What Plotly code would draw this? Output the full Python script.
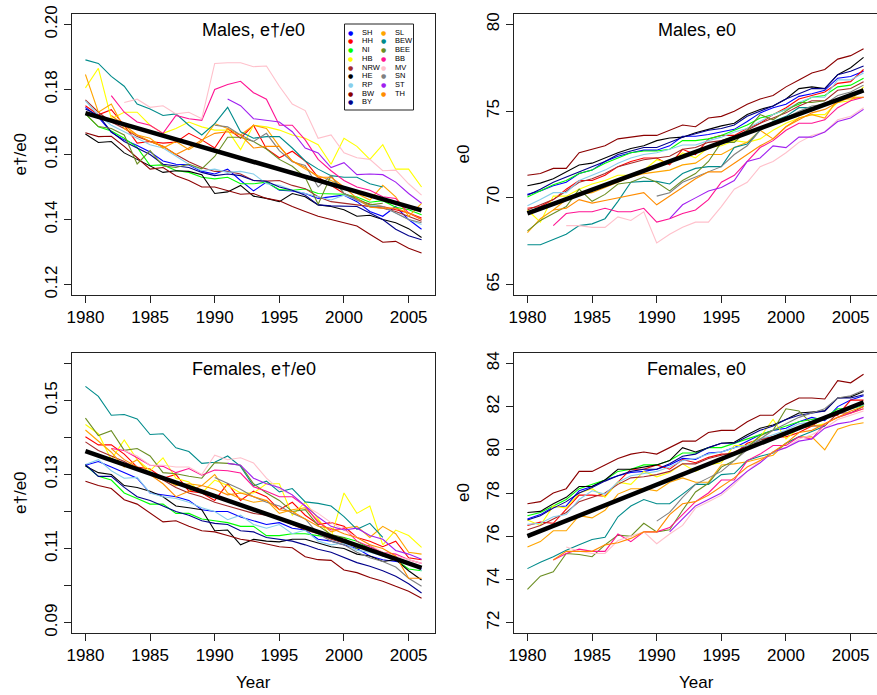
import plotly.graph_objects as go

years = list(range(1980, 2007))
trend_years = [1980, 2006]
N = None

states = ["SH", "HH", "NI", "HB", "NRW", "HE", "RP", "BW", "BY",
          "SL", "BEW", "BEE", "BB", "MV", "SN", "ST", "TH"]
colors = {"SH": "#0000FF", "HH": "#FF0000", "NI": "#00FF00", "HB": "#FFFF00",
          "NRW": "#A52A2A", "HE": "#000000", "RP": "#87CEEB", "BW": "#8B0000",
          "BY": "#00008B", "SL": "#FFA500", "BEW": "#008B8B", "BEE": "#6B8E23",
          "BB": "#FF1493", "MV": "#FFC0CB", "SN": "#808080", "ST": "#A020F0",
          "TH": "#FF8C00"}

# ---- Males, e-dagger / e0 ----
males_ratio = {
    "SH": [.1745, .1715, .1668, .1645, .1628, .1608, .1580, .1570, .1568, .1548, .1540, .1555, .1520, .1488, .1515, .1490, .1488, .1480, .1465, .1470, .1475, .1455, .1425, .1410, .1440, .1400, .1370],
    "HH": [.1750, .1722, .1738, .1690, .1635, .1640, .1635, .1638, .1665, .1645, .1620, .1680, .1650, .1690, .1618, .1590, .1610, .1580, .1530, .1505, .1480, .1460, .1448, .1440, .1430, .1420, .1405],
    "NI": [.1725, .1685, .1672, .1650, .1622, .1566, .1568, .1551, .1545, .1530, .1525, .1530, .1510, .1510, .1515, .1492, .1490, .1494, .1480, .1480, .1478, .1469, .1453, .1458, .1438, .1430, .1415],
    "HB": [.1805, .1865, .1710, .1730, .1730, .1690, .1665, .1680, .1700, .1685, .1675, .1675, .1615, .1690, .1685, .1675, .1660, .1650, .1630, .1570, .1650, .1625, .1585, .1630, .1555, .1555, .1500],
    "NRW": [.1768, .1730, .1700, .1680, .1655, .1640, .1625, .1600, .1578, .1560, .1548, .1548, .1540, .1520, .1518, .1520, .1505, .1495, .1470, .1455, .1450, .1445, .1440, .1435, .1425, .1410, .1395],
    "HE": [.1663, .1637, .1640, .1605, .1585, .1565, .1545, .1550, .1548, .1538, .1480, .1485, .1505, .1472, .1465, .1455, .1480, .1470, .1445, .1440, .1430, .1410, .1413, .1400, .1390, .1372, .1345],
    "RP": [.1765, .1720, .1690, .1670, .1650, .1630, .1620, .1595, .1570, .1550, .1555, .1545, .1548, .1540, .1510, .1505, .1490, .1480, .1470, .1460, .1475, .1460, .1445, .1440, .1420, .1400, .1385],
    "BW": [.1667, .1655, .1656, .1625, .1590, .1555, .1560, .1535, .1520, .1500, .1500, .1490, .1478, .1480, .1465, .1458, .1440, .1425, .1410, .1400, .1390, .1380, .1355, .1330, .1333, .1312, .1297],
    "BY": [.1740, .1720, .1670, .1640, .1620, .1600, .1570, .1565, .1560, .1545, .1535, .1540, .1535, .1520, .1518, .1500, .1490, .1475, .1445, .1442, .1440, .1440, .1420, .1400, .1370, .1350, .1338],
    "SL": [.1846, .1730, .1755, .1680, .1660, .1650, .1620, .1640, .1615, .1640, .1695, .1680, .1660, .1690, .1680, .1625, .1580, .1555, .1535, .1520, .1500, .1480, .1460, .1505, .1470, .1410, .1450],
    "BEW": [.1891, .1880, .1840, .1810, .1755, .1740, .1720, .1725, .1690, .1660, .1695, .1745, .1670, .1650, .1655, .1655, .1620, .1580, .1555, .1535, .1530, .1530, .1510, .1500, N, N, N],
    "BEE": [.1725, .1686, .1680, .1660, .1571, .1612, .1565, .1560, .1570, .1556, .1594, .1653, .1653, .1640, .1617, .1585, .1564, .1530, .1447, .1535, .1480, .1465, .1445, .1450, N, N, N],
    "BB": [N, N, .1781, .1730, .1700, .1690, .1665, .1720, .1710, .1705, .1800, .1815, .1825, .1790, .1770, .1690, .1690, .1645, .1585, .1550, .1520, .1500, .1490, .1470, .1465, .1420, .1400],
    "MV": [N, N, N, .1760, .1770, .1745, .1750, .1725, .1730, .1710, .1880, .1882, .1882, .1870, .1872, .1810, .1755, .1735, .1650, .1660, .1605, .1590, .1585, .1550, .1552, .1510, .1475],
    "SN": [N, N, N, N, N, N, N, N, N, N, .1690, .1685, .1660, .1640, .1665, .1612, .1578, .1566, .1500, .1535, .1480, .1460, .1440, .1440, .1420, .1400, .1390],
    "ST": [N, N, N, N, N, N, N, N, N, N, N, .1771, .1750, .1710, .1705, .1700, .1670, .1620, .1605, .1560, .1575, .1538, .1540, .1538, .1515, .1480, .1450],
    "TH": [N, N, .1720, .1690, .1660, .1640, .1625, .1600, .1620, .1645, .1665, .1670, .1660, .1620, .1625, .1625, .1580, .1560, .1530, .1530, .1500, .1465, .1438, .1435, .1435, .1420, .1400],
}
males_ratio_trend = [0.1727, 0.1428]

# ---- Males, e0 ----
males_e0 = {
    "SH": [70.2, 70.4, 70.7, 70.9, 71.4, 71.6, 72.1, 72.4, 72.6, 72.75, 72.75, 73.0, 73.55, 73.55, 73.65, 73.8, 73.95, 74.4, 74.9, 75.2, 75.4, 75.85, 76.0, 76.2, 76.9, 77.0, 77.3],
    "HH": [69.4, 69.5, 69.9, 70.5, 71.0, 71.0, 71.3, 71.8, 72.1, 72.3, 72.3, 71.9, 72.8, 72.5, 73.4, 73.6, 73.6, 74.0, 74.3, 74.8, 75.2, 75.7, 75.9, 76.1, 76.6, 76.7, 77.4],
    "NI": [70.05, 70.4, 70.75, 71.0, 71.4, 71.6, 72.0, 72.3, 72.6, 72.7, 72.7, 72.8, 73.3, 73.3, 73.4, 73.6, 73.9, 74.2, 74.6, 74.8, 75.1, 75.4, 75.8, 75.9, 76.4, 76.5, 76.9],
    "HB": [69.3, 68.6, 70.1, 70.1, 70.5, 70.8, 71.0, 71.3, 71.3, 71.6, 72.2, 72.0, 72.6, 72.3, 72.9, 73.0, 73.3, 73.2, 73.4, 73.9, 74.3, 74.6, 74.8, 74.8, 75.5, 75.6, 76.4],
    "NRW": [69.3, 69.6, 69.9, 70.4, 70.9, 71.1, 71.4, 71.8, 72.0, 72.2, 72.3, 72.4, 72.8, 72.9, 73.2, 73.3, 73.5, 73.9, 74.3, 74.6, 74.9, 75.3, 75.6, 75.6, 76.2, 76.3, 76.7],
    "HE": [70.7, 70.85, 71.1, 71.5, 71.9, 72.0, 72.3, 72.6, 72.85, 73.0, 73.3, 73.45, 73.5, 73.75, 73.95, 74.15, 74.3, 74.8, 75.1, 75.3, 75.7, 76.3, 76.4, 76.3, 77.1, 77.5, 78.1],
    "RP": [69.55, 69.9, 70.3, 70.3, 71.0, 71.3, 71.6, 72.0, 72.3, 72.5, 72.6, 72.8, 73.05, 73.05, 73.3, 73.5, 73.8, 74.0, 74.4, 74.8, 75.1, 75.5, 75.8, 75.8, 76.8, 76.8, 77.2],
    "BW": [71.3, 71.4, 71.7, 71.7, 72.6, 72.8, 73.0, 73.4, 73.5, 73.6, 73.6, 73.9, 74.2, 74.1, 74.6, 74.7, 75.0, 75.4, 75.7, 75.9, 76.4, 76.8, 77.2, 77.4, 78.0, 78.2, 78.6],
    "BY": [70.15, 70.5, 70.9, 71.2, 71.5, 71.8, 72.1, 72.5, 72.7, 72.9, 72.9, 73.2, 73.5, 73.7, 73.9, 74.0, 74.2, 74.7, 75.0, 75.3, 75.7, 76.0, 76.3, 76.3, 77.1, 77.3, 77.6],
    "SL": [68.0, 68.8, 69.3, 69.9, 70.2, 70.3, 70.6, 70.9, 71.2, 71.4, 71.5, 71.6, 71.9, 72.0, 72.5, 72.5, 72.9, 73.2, 73.9, 73.4, 74.1, 74.6, 74.8, 74.6, 75.7, 75.7, 75.8],
    "BEW": [67.3, 67.3, 67.6, 67.9, 68.4, 68.5, 68.8, 69.8, 70.9, 70.95, 70.95, 70.8, 71.4, 71.7, 71.8, 71.8, 72.9, 73.1, 73.9, 74.4, 74.7, 75.2, 75.2, 75.4, N, N, N],
    "BEE": [68.1, 68.7, 69.1, 69.5, 70.5, 69.8, 70.2, 70.8, 70.9, 71.2, 70.9, 70.4, 71.0, 71.4, 72.1, 73.2, 73.2, 73.9, 74.8, 74.5, 75.0, 75.5, 75.5, 75.6, N, N, N],
    "BB": [N, N, 68.4, 69.1, 69.2, 69.2, 69.4, 69.2, 69.2, 69.4, 68.6, 68.8, 69.1, 69.3, 69.9, 70.9, 71.3, 72.1, 72.9, 73.3, 73.9, 74.3, 74.3, 74.5, 75.2, 75.6, 75.8],
    "MV": [N, N, N, 68.4, 68.4, 68.3, 68.3, 68.9, 68.7, 69.2, 67.4, 67.9, 68.3, 68.6, 68.6, 69.5, 70.5, 70.9, 71.8, 72.1, 72.6, 73.2, 73.6, 73.8, 74.5, 74.7, 75.2],
    "SN": [N, N, N, N, N, N, N, N, N, N, 70.1, 70.3, 70.9, 71.2, 71.5, 71.8, 72.5, 73.0, 73.9, 74.3, 74.6, 75.0, 75.3, 75.4, 75.9, 76.1, 76.5],
    "ST": [N, N, N, N, N, N, N, N, N, N, N, 68.8, 69.6, 70.0, 70.4, 70.6, 71.0, 72.1, 72.3, 73.0, 72.9, 73.5, 73.5, 73.8, 74.4, 74.6, 75.1],
    "TH": [N, N, 69.3, 69.4, 69.9, 69.7, 69.85, 70.0, 70.15, 70.3, 69.6, 70.1, 70.6, 71.1, 71.5, 71.5, 72.0, 72.5, 73.0, 73.4, 74.1, 74.5, 74.9, 75.1, 75.5, 75.8, 75.8],
}
males_e0_trend = [69.1, 76.2]

# ---- Females, e-dagger / e0 ----
females_ratio = {
    "SH": [.1325, .1335, .1320, .1305, .1290, .1250, .1245, .1240, .1230, .1205, .1200, .1200, .1185, .1175, .1165, .1170, .1155, .1150, .1125, .1120, .1110, .1100, .1080, .1070, .1065, .1060, .1045],
    "HH": [.1402, .1380, .1380, .1355, .1320, .1315, .1290, .1300, .1255, .1250, .1230, .1275, .1230, .1255, .1240, .1205, .1225, .1190, .1165, .1170, .1160, .1130, .1120, .1105, .1120, .1075, .1070],
    "NI": [.1325, .1295, .1285, .1250, .1235, .1220, .1220, .1195, .1195, .1180, .1175, .1170, .1160, .1160, .1135, .1135, .1140, .1140, .1135, .1130, .1130, .1120, .1100, .1080, .1070, .1045, .1040],
    "HB": [.1435, .1410, .1340, .1393, .1340, .1310, .1345, .1290, .1280, .1250, .1285, .1270, .1250, .1250, .1275, .1275, .1190, .1225, .1180, .1130, .1250, .1195, .1215, .1110, .1150, .1135, .1103],
    "NRW": [.1388, .1365, .1350, .1335, .1315, .1300, .1285, .1265, .1250, .1240, .1225, .1215, .1205, .1195, .1190, .1180, .1165, .1150, .1140, .1125, .1115, .1105, .1100, .1085, .1075, .1060, .1050],
    "HE": [.1323, .1305, .1300, .1270, .1265, .1255, .1240, .1215, .1210, .1205, .1148, .1150, .1110, .1125, .1120, .1118, .1125, .1125, .1115, .1105, .1100, .1085, .1080, .1065, .1070, .1040, .1015],
    "RP": [.1327, .1340, .1310, .1290, .1292, .1250, .1240, .1235, .1225, .1210, .1200, .1178, .1190, .1165, .1155, .1165, .1140, .1150, .1120, .1110, .1115, .1095, .1090, .1080, .1075, .1065, .1040],
    "BW": [.1282, .1270, .1262, .1232, .1220, .1195, .1172, .1175, .1160, .1148, .1145, .1135, .1125, .1120, .1112, .1105, .1102, .1078, .1070, .1068, .1042, .1035, .1022, .1012, .0998, .0985, .0966],
    "BY": [.1327, .1295, .1295, .1265, .1240, .1230, .1215, .1200, .1190, .1175, .1168, .1165, .1148, .1145, .1130, .1125, .1120, .1110, .1098, .1090, .1075, .1062, .1052, .1040, .1025, .1005, .0980],
    "SL": [.1420, .1390, .1360, .1320, .1340, .1300, .1290, .1270, .1275, .1270, .1300, .1250, .1235, .1225, .1230, .1195, .1205, .1210, .1175, .1145, .1155, .1160, .1130, .1160, .1140, .1090, .1085],
    "BEW": [.1538, .1511, .1460, .1462, .1450, .1408, .1410, .1372, .1362, .1330, .1333, .1350, .1322, .1269, .1282, .1253, .1262, .1226, .1222, .1215, .1186, .1152, .1168, .1130, N, N, N],
    "BEE": [.1452, .1405, .1418, .1365, .1370, .1350, .1305, .1302, .1295, .1290, .1332, .1330, .1325, .1275, .1250, .1230, .1200, .1205, .1162, .1138, .1130, .1100, .1110, .1085, N, N, N],
    "BB": [N, N, .1370, .1365, .1345, .1325, .1322, .1305, .1316, .1298, .1312, .1310, .1304, .1267, .1255, .1240, .1240, .1215, .1170, .1150, .1155, .1120, .1105, .1090, .1085, .1070, .1060],
    "MV": [N, N, N, .1365, .1350, .1325, .1325, .1320, .1320, .1300, .1352, .1340, .1345, .1331, .1290, .1260, .1245, .1215, .1195, .1170, .1150, .1130, .1110, .1090, .1080, .1070, .1060],
    "SN": [N, N, N, N, N, N, N, N, N, N, .1292, .1275, .1260, .1240, .1225, .1215, .1195, .1180, .1140, .1120, .1110, .1090, .1075, .1065, .1050, .1020, .0998],
    "ST": [N, N, N, N, N, N, N, N, N, N, N, .1330, .1325, .1290, .1275, .1265, .1245, .1215, .1185, .1160, .1150, .1155, .1135, .1125, .1095, .1085, .1071],
    "TH": [N, N, .1370, .1340, .1320, .1300, .1275, .1240, .1255, .1270, .1260, .1245, .1250, .1240, .1230, .1205, .1200, .1180, .1160, .1155, .1140, .1130, .1110, .1100, .1080, .1020, .1020],
}
females_ratio_trend = [0.1363, 0.1048]

# ---- Females, e0 ----
females_e0 = {
    "SH": [76.8, 77.0, 77.35, 77.4, 78.1, 78.3, 78.6, 78.8, 78.95, 79.0, 79.1, 79.3, 79.6, 79.55, 79.85, 79.9, 80.1, 80.4, 80.7, 80.9, 81.0, 81.3, 81.5, 81.35, 82.0, 82.3, 82.5],
    "HH": [76.5, 76.65, 76.6, 77.25, 77.9, 77.9, 77.85, 78.5, 79.1, 79.1, 79.3, 79.1, 79.55, 79.4, 79.65, 79.8, 79.8, 80.3, 80.5, 80.6, 80.6, 80.8, 81.1, 81.5, 81.6, 82.3, 82.3],
    "NI": [76.95, 77.1, 77.4, 77.7, 78.2, 78.4, 78.6, 79.0, 79.1, 79.3, 79.3, 79.5, 79.85, 79.85, 80.1, 80.1, 80.3, 80.5, 80.7, 80.9, 81.1, 81.3, 81.4, 81.5, 81.9, 81.9, 82.05],
    "HB": [76.75, 76.5, 77.4, 77.3, 78.0, 78.2, 77.8, 78.5, 78.4, 79.0, 78.75, 78.95, 79.35, 79.0, 79.3, 79.4, 80.2, 80.2, 80.6, 81.4, 80.5, 81.0, 81.1, 81.2, 81.5, 81.7, 81.9],
    "NRW": [76.3, 76.5, 76.8, 77.1, 77.6, 77.8, 78.0, 78.4, 78.7, 78.75, 78.85, 79.0, 79.35, 79.35, 79.6, 79.75, 79.9, 80.2, 80.45, 80.6, 80.8, 81.0, 81.1, 81.1, 81.7, 81.7, 82.0],
    "HE": [77.1, 77.15, 77.5, 77.8, 78.3, 78.3, 78.6, 79.1, 79.1, 79.2, 79.3, 79.5, 80.1, 79.9, 80.1, 80.3, 80.35, 80.7, 81.0, 81.15, 81.4, 81.7, 81.75, 81.8, 82.4, 82.45, 82.7],
    "RP": [76.55, 76.6, 76.9, 77.0, 77.7, 78.1, 77.95, 78.5, 78.8, 78.9, 79.0, 79.2, 79.5, 79.6, 79.8, 79.9, 80.1, 80.2, 80.5, 80.7, 80.9, 81.2, 81.3, 81.4, 81.8, 81.9, 82.1],
    "BW": [77.5, 77.6, 78.0, 78.2, 79.0, 79.0, 79.3, 79.6, 79.8, 79.9, 79.8, 80.1, 80.4, 80.4, 80.8, 80.9, 80.9, 81.3, 81.6, 81.6, 82.1, 82.4, 82.4, 82.35, 83.2, 83.1, 83.5],
    "BY": [76.75, 76.95, 77.3, 77.6, 78.0, 78.25, 78.55, 78.8, 79.0, 79.1, 79.1, 79.35, 79.7, 79.8, 80.1, 80.3, 80.3, 80.6, 80.9, 81.1, 81.4, 81.6, 81.7, 81.8, 82.4, 82.4, 82.55],
    "SL": [75.5, 75.75, 76.25, 76.25, 76.95, 76.85, 77.2, 77.95, 78.2, 78.2, 78.1, 78.5, 78.7, 78.5, 78.5, 79.3, 79.35, 79.45, 79.6, 79.75, 80.3, 80.6, 80.6, 80.0, 80.95, 81.15, 81.25],
    "BEW": [74.5, 74.8, 75.05, 75.35, 75.6, 75.85, 75.95, 76.9, 77.4, 77.7, 77.5, 77.5, 77.95, 78.4, 78.4, 78.85, 78.9, 79.5, 79.7, 79.85, 80.3, 80.6, 80.85, 81.1, N, N, N],
    "BEE": [73.54, 74.15, 74.35, 75.2, 75.15, 75.05, 75.6, 76.05, 76.0, 76.6, 76.2, 76.3, 77.2, 78.05, 78.45, 79.2, 79.5, 80.1, 80.65, 80.9, 81.9, 81.8, 81.2, 81.5, N, N, N],
    "BB": [N, N, 74.9, 75.2, 75.4, 75.3, 75.3, 76.1, 75.75, 76.2, 76.2, 76.4, 77.0, 77.6, 78.0, 78.6, 78.6, 79.5, 79.8, 80.2, 80.2, 80.6, 80.5, 81.2, 81.5, 81.7, 81.9],
    "MV": [N, N, N, 75.5, 75.3, 75.2, 75.2, 75.8, 76.0, 76.2, 75.65, 76.1, 76.5, 77.3, 77.6, 77.9, 78.4, 79.0, 79.5, 79.9, 80.1, 80.5, 80.7, 81.0, 81.4, 81.6, 81.8],
    "SN": [N, N, N, N, N, N, N, N, N, N, 76.7, 77.1, 77.8, 78.4, 78.7, 79.0, 79.5, 80.0, 80.5, 80.9, 81.2, 81.5, 81.7, 81.9, 82.4, 82.5, 82.75],
    "ST": [N, N, N, N, N, N, N, N, N, N, N, 76.2, 76.8, 77.4, 77.7, 78.0, 78.5, 79.0, 79.4, 79.9, 80.1, 80.4, 80.5, 81.0, 81.2, 81.3, 81.5],
    "TH": [N, N, 74.9, 75.3, 75.3, 75.3, 75.6, 75.7, 75.9, 76.2, 76.2, 77.0, 77.5, 77.6, 77.9, 78.3, 78.7, 79.2, 79.5, 79.9, 80.3, 80.8, 80.9, 81.2, 81.5, 81.8, 82.0],
}
females_e0_trend = [76.0, 82.2]

# ---- axes / ticks ----
x_ticks = [1980, 1985, 1990, 1995, 2000, 2005]
mr_ticks = [0.12, 0.14, 0.16, 0.18, 0.20]
mr_labels = ["0.12", "0.14", "0.16", "0.18", "0.20"]
me_ticks = [65, 70, 75, 80]
fr_ticks = [0.09, 0.10, 0.11, 0.12, 0.13, 0.14, 0.15, 0.16]
fr_labels = ["0.09", "", "0.11", "", "0.13", "", "0.15", ""]
fe_ticks = [72, 74, 76, 78, 80, 82, 84]

W, H = 877, 695
FONT = "Liberation Sans, Arial, Helvetica, sans-serif"


def fx(p):
    return p / W


def fy(p):
    return 1 - p / H


fig = go.Figure()

panels = [
    (males_ratio, males_ratio_trend, "x", "y"),
    (males_e0, males_e0_trend, "x2", "y2"),
    (females_ratio, females_ratio_trend, "x3", "y3"),
    (females_e0, females_e0_trend, "x4", "y4"),
]
for data, trend, xa, ya in panels:
    for s in states:
        fig.add_trace(go.Scatter(x=years, y=data[s], mode="lines", xaxis=xa, yaxis=ya,
                                 line=dict(color=colors[s], width=1.1), showlegend=False,
                                 connectgaps=False, hoverinfo="skip"))
    fig.add_trace(go.Scatter(x=trend_years, y=trend, mode="lines", xaxis=xa, yaxis=ya,
                             line=dict(color="black", width=4.5), showlegend=False,
                             hoverinfo="skip"))

# panel pixel boxes (left, top, right, bottom)
boxes = {
    1: (72, 14, 435, 295),
    2: (514, 14, 877, 295),
    3: (72, 353, 435, 633),
    4: (514, 353, 877, 633),
}

LINE = "#222222"
axis_common = dict(showgrid=False, zeroline=False, showline=True, linecolor=LINE, linewidth=1,
                   ticks="outside", ticklen=7, tickcolor=LINE, tickwidth=1,
                   tickfont=dict(family=FONT, size=17, color="black"))

yspec = {
    1: dict(range=[0.1168, 0.2032], tickvals=mr_ticks, ticktext=mr_labels),
    2: dict(range=[64.4, 80.6], tickvals=me_ticks, ticktext=[str(v) for v in me_ticks]),
    3: dict(range=[0.0872, 0.1628], tickvals=fr_ticks, ticktext=fr_labels),
    4: dict(range=[71.52, 84.48], tickvals=fe_ticks, ticktext=[str(v) for v in fe_ticks]),
}

layout = dict(width=W, height=H, margin=dict(l=0, r=0, t=0, b=0, autoexpand=False),
              paper_bgcolor="white", plot_bgcolor="white", showlegend=False)
for i in range(1, 5):
    l, t, r, b = boxes[i]
    sx = "" if i == 1 else str(i)
    layout["xaxis" + sx] = dict(axis_common, domain=[fx(l), fx(r)], range=[1978.96, 2007.04],
                                tickvals=x_ticks, ticktext=[str(v) for v in x_ticks],
                                mirror=True, anchor="y" + sx)
    layout["yaxis" + sx] = dict(axis_common, domain=[fy(b), fy(t)], tickangle=-90,
                                mirror=(i in (1, 3)), anchor="x" + sx, **yspec[i])
fig.update_layout(**layout)

ann = []
titles = {1: "Males, e\u2020/e0", 2: "Males, e0", 3: "Females, e\u2020/e0", 4: "Females, e0"}
centers = {1: 253.5, 2: 696.5, 3: 253.5, 4: 696.5}
for i in range(1, 5):
    l, t, r, b = boxes[i]
    ann.append(dict(text=titles[i], x=fx(centers[i]), y=fy(t + 16), xref="paper", yref="paper",
                    xanchor="center", yanchor="middle", showarrow=False,
                    font=dict(family=FONT, size=18, color="black")))
# axis titles
for i, (xp, txt) in enumerate([(20, "e\u2020/e0"), (463, "e0"), (20, "e\u2020/e0"), (463, "e0")], start=1):
    l, t, r, b = boxes[i]
    ann.append(dict(text=txt, x=fx(xp), y=fy((t + b) / 2), xref="paper", yref="paper",
                    xanchor="center", yanchor="middle", textangle=-90, showarrow=False,
                    font=dict(family=FONT, size=17, color="black")))
for xc in (253.5, 696.5):
    ann.append(dict(text="Year", x=fx(xc), y=fy(682), xref="paper", yref="paper",
                    xanchor="center", yanchor="middle", showarrow=False,
                    font=dict(family=FONT, size=17, color="black")))

# legend (inside the first panel)
col1 = states[:9]
col2 = states[9:]
row0, dy = 32.3, 8.68
for col, (dotx, textx) in ((col1, (350.7, 359.5)), (col2, (383.3, 392.5))):
    for k, s in enumerate(col):
        yy = row0 + k * dy
        ann.append(dict(text="\u25CF", x=fx(dotx), y=fy(yy), xref="paper", yref="paper",
                        xanchor="center", yanchor="middle", showarrow=False,
                        font=dict(family="DejaVu Sans", size=6, color=colors[s])))
        ann.append(dict(text=s, x=fx(textx), y=fy(yy), xref="paper", yref="paper",
                        xanchor="left", yanchor="middle", showarrow=False,
                        font=dict(family=FONT, size=7.5, color="black")))

fig.update_layout(annotations=ann,
                  shapes=[dict(type="rect", xref="paper", yref="paper",
                               x0=fx(344.5), x1=fx(413.5), y0=fy(110), y1=fy(24),
                               line=dict(color=LINE, width=1), fillcolor="white", layer="above")])

fig.write_html("out.html", config={"displayModeBar": False},
               post_script="document.body.style.margin='0px';document.body.style.padding='0px';")
